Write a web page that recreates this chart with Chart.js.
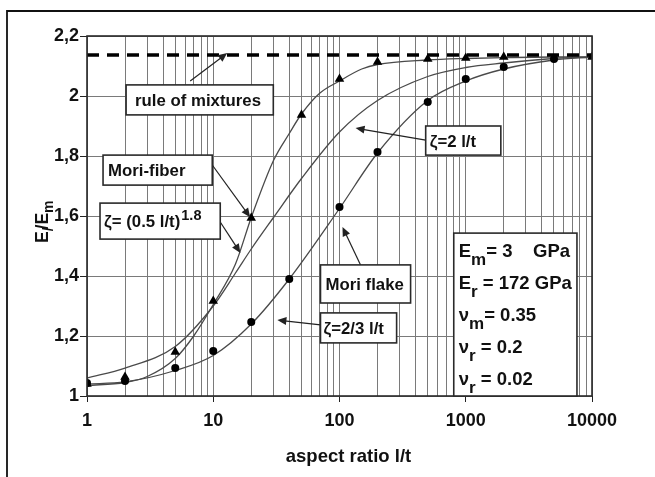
<!DOCTYPE html>
<html>
<head>
<meta charset="utf-8">
<script src="https://cdn.jsdelivr.net/npm/chart.js@4.4.1/dist/chart.umd.min.js"></script>
<style>
html,body{margin:0;padding:0;background:#fff;}
#wrap{position:relative;width:655px;height:477px;}
canvas{display:block;}
</style>
</head>
<body>
<div id="wrap"><canvas id="c" width="655" height="477"></canvas></div>
<script>
// ---------- data ----------
const xMajorTicks = [1, 10, 100, 1000, 10000];
const xGridTicks = [1,2,3,4,5,6,7,8,9,10,20,30,40,50,60,70,80,90,100,200,300,400,500,600,700,800,900,1000,2000,3000,4000,5000,6000,7000,8000,9000,10000];
const yTicks = [1, 1.2, 1.4, 1.6, 1.8, 2, 2.2];

const ruleOfMixtures = 2.137;

// Halpin-Tsai points, zeta = (0.5 l/t)^1.8 (triangles)
const triX = [1, 2, 5, 10, 20, 50, 100, 200, 500, 1000, 2000, 10000];
const triY = [1.04, 1.063, 1.147, 1.317, 1.593, 1.937, 2.057, 2.113, 2.123, 2.127, 2.13, 2.13];

// Halpin-Tsai points, zeta = 2/3 l/t (circles)
const circX = [1, 2, 5, 10, 20, 40, 100, 200, 500, 1000, 2000, 5000];
const circY = [1.043, 1.05, 1.093, 1.15, 1.247, 1.39, 1.63, 1.813, 1.98, 2.057, 2.097, 2.123];

// Mori-fiber curve
const moriFiberX = [1, 2, 3, 5, 7, 10, 15, 20, 30, 40, 50, 70, 100, 150, 200, 500, 1000, 2000, 5000, 10000];
const moriFiberY = [1.035, 1.045, 1.065, 1.125, 1.2, 1.305, 1.44, 1.595, 1.785, 1.875, 1.94, 2.01, 2.05, 2.09, 2.105, 2.12, 2.125, 2.128, 2.13, 2.13];

// Halpin-Tsai curve, zeta = 2 l/t
const zeta2X = [1, 2, 5, 10, 15, 20, 30, 50, 100, 200, 500, 1000, 2000, 5000, 10000];
const zeta2Y = [1.06, 1.093, 1.165, 1.3, 1.41, 1.49, 1.595, 1.725, 1.88, 1.985, 2.065, 2.095, 2.11, 2.125, 2.13];

// Mori flake curve
const moriFlakeX = [1, 2, 5, 10, 20, 40, 100, 200, 500, 1000, 2000, 5000, 10000];
const moriFlakeY = [1.04, 1.047, 1.085, 1.135, 1.24, 1.39, 1.625, 1.81, 1.985, 2.05, 2.09, 2.12, 2.13];

const xTitle = 'aspect ratio l/t';

// ---------- annotations (data coordinates) ----------
const labelNotes = [
  {parts:[['rule of mixtures',0]], box:[2.04,2.037,29.9,1.937], pad:9, from:[6.57,2.05], to:[12.9,2.143]},
  {parts:[['Mori-fiber',0]], box:[1.34,1.803,9.82,1.703], pad:5, from:[9.82,1.77], to:[19.6,1.596]},
  {parts:[['ζ= (0.5 l/t)',0],['1.8',1]], box:[1.268,1.643,11.36,1.523], pad:4, from:[11.36,1.58], to:[16.4,1.477]},
  {parts:[['ζ=2 l/t',0]], box:[481.6,1.90,1896,1.803], pad:4, from:[481.6,1.853], to:[134,1.893]},
  {parts:[['Mori flake',0]], box:[70.7,1.437,365.7,1.31], pad:5, from:[146.8,1.437], to:[105.6,1.563]},
  {parts:[['ζ=2/3 l/t',0]], box:[70.7,1.277,283.4,1.177], pad:3, from:[70.7,1.237], to:[32.2,1.253]}
];
const paramBox = [803.5, 1.543, 7600, 1.0];
const paramLines = [
  ['E','m','= 3    GPa'],
  ['E','r',' = 172 GPa'],
  ['ν','m','= 0.35'],
  ['ν','r',' = 0.2'],
  ['ν','r',' = 0.02']
];

const FONT = '"Liberation Sans", Arial, sans-serif';
const INK = '#111';

function bold(size){ return 'bold ' + size + 'px ' + FONT; }

function drawArrow(ctx, x1, y1, x2, y2){
  const ang = Math.atan2(y2 - y1, x2 - x1);
  const L = 9, W = 4;
  ctx.beginPath();
  ctx.moveTo(x1, y1);
  ctx.lineTo(x2 - Math.cos(ang) * L * 0.8, y2 - Math.sin(ang) * L * 0.8);
  ctx.stroke();
  ctx.beginPath();
  ctx.moveTo(x2, y2);
  ctx.lineTo(x2 - Math.cos(ang) * L - Math.sin(ang) * W, y2 - Math.sin(ang) * L + Math.cos(ang) * W);
  ctx.lineTo(x2 - Math.cos(ang) * L + Math.sin(ang) * W, y2 - Math.sin(ang) * L - Math.cos(ang) * W);
  ctx.closePath();
  ctx.fill();
}

const decorPlugin = {
  id: 'decor',
  afterDatasetsDraw(chart){
    const ctx = chart.ctx;
    const xs = chart.scales.x, ys = chart.scales.y;
    const P = (x, y) => [xs.getPixelForValue(x), ys.getPixelForValue(y)];
    const ca = chart.chartArea;
    ctx.save();
    // plot frame
    ctx.strokeStyle = '#2a2a2a';
    ctx.lineWidth = 1.6;
    ctx.strokeRect(ca.left, ca.top, ca.right - ca.left, ca.bottom - ca.top);

    // arrows
    ctx.strokeStyle = '#222';
    ctx.fillStyle = '#222';
    ctx.lineWidth = 1.2;
    labelNotes.forEach(n => {
      const [a, b] = [P(n.from[0], n.from[1]), P(n.to[0], n.to[1])];
      drawArrow(ctx, a[0], a[1], b[0], b[1]);
    });
    // label boxes
    labelNotes.forEach(n => {
      const p1 = P(n.box[0], n.box[1]), p2 = P(n.box[2], n.box[3]);
      ctx.fillStyle = '#fff';
      ctx.fillRect(p1[0], p1[1], p2[0] - p1[0], p2[1] - p1[1]);
      ctx.strokeStyle = '#2a2a2a';
      ctx.lineWidth = 1.6;
      ctx.strokeRect(p1[0], p1[1], p2[0] - p1[0], p2[1] - p1[1]);
      const cy = (p1[1] + p2[1]) / 2;
      let x = p1[0] + n.pad;
      ctx.fillStyle = INK;
      ctx.textAlign = 'left';
      ctx.textBaseline = 'alphabetic';
      n.parts.forEach(([t, sup]) => {
        ctx.font = sup ? bold(14.5) : bold(16.8);
        ctx.fillText(t, x, sup ? cy + 6 - 7 : cy + 6);
        x += ctx.measureText(t).width + (sup ? 0 : 1);
      });
    });

    // parameter box
    const q1 = P(paramBox[0], paramBox[1]), q2 = P(paramBox[2], paramBox[3]);
    ctx.fillStyle = '#fff';
    ctx.fillRect(q1[0], q1[1], q2[0] - q1[0], q2[1] - q1[1]);
    ctx.strokeStyle = '#2a2a2a';
    ctx.lineWidth = 1.6;
    ctx.strokeRect(q1[0], q1[1], q2[0] - q1[0], q2[1] - q1[1]);
    ctx.fillStyle = INK;
    paramLines.forEach((ln, i) => {
      const by = q1[1] + 24 + i * 32;
      let x = q1[0] + 5;
      ctx.font = bold(18.5);
      ctx.fillText(ln[0], x, by);
      x += ctx.measureText(ln[0]).width;
      ctx.font = bold(17);
      ctx.fillText(ln[1], x, by + 8);
      x += ctx.measureText(ln[1]).width;
      ctx.font = bold(18.5);
      ctx.fillText(ln[2], x, by);
    });

    // x axis title
    ctx.font = bold(18.5);
    ctx.textAlign = 'center';
    ctx.fillText(xTitle, (ca.left + ca.right) / 2 + 9, ca.bottom + 66);

    // y axis title (rotated)
    ctx.translate(48, 243);
    ctx.rotate(-Math.PI / 2);
    ctx.textAlign = 'left';
    let x = 0;
    const seg = [['E',0],['/',1],['/',0],['E',0],['m',1]];
    seg.forEach(([t, sub]) => {
      ctx.font = sub ? bold(14) : bold(17.5);
      ctx.fillText(t, x, sub ? 5 : 0);
      x += ctx.measureText(t).width - (sub && t === '/' ? 2 : 0);
    });
    ctx.restore();

    // outer figure frame
    ctx.save();
    ctx.strokeStyle = '#111';
    ctx.lineWidth = 1.8;
    ctx.beginPath();
    ctx.moveTo(7, 480);
    ctx.lineTo(7, 11);
    ctx.lineTo(660, 11);
    ctx.stroke();
    ctx.restore();
  }
};

const toXY = (xa, ya) => xa.map((v, i) => ({x: v, y: ya[i]}));

const lineStyle = {
  borderColor: '#4a4a4a',
  borderWidth: 1.3,
  pointRadius: 0,
  fill: false,
  cubicInterpolationMode: 'monotone'
};

new Chart(document.getElementById('c'), {
  type: 'line',
  data: {
    datasets: [
      {label: 'ζ=(0.5 l/t)^1.8', data: toXY(triX, triY), showLine: false, pointStyle: 'triangle', pointRadius: 5.5, pointBackgroundColor: '#000', pointBorderColor: '#000', pointBorderWidth: 0},
      {label: 'ζ=2/3 l/t', data: toXY(circX, circY), showLine: false, pointStyle: 'circle', pointRadius: 4, pointBackgroundColor: '#000', pointBorderColor: '#000', pointBorderWidth: 0},
      {label: 'rule of mixtures', data: [{x: xMajorTicks[0], y: ruleOfMixtures}, {x: xMajorTicks[xMajorTicks.length - 1], y: ruleOfMixtures}], borderColor: '#000', borderWidth: 3.5, borderDash: [12, 8], pointRadius: 0, fill: false},
      Object.assign({label: 'Mori-fiber', data: toXY(moriFiberX, moriFiberY)}, lineStyle),
      Object.assign({label: 'ζ=2 l/t', data: toXY(zeta2X, zeta2Y)}, lineStyle),
      Object.assign({label: 'Mori flake', data: toXY(moriFlakeX, moriFlakeY)}, lineStyle)
    ]
  },
  options: {
    responsive: false,
    animation: false,
    devicePixelRatio: 1,
    layout: {padding: {left: 0, top: 36, right: 63, bottom: 0}},
    plugins: {legend: {display: false}, tooltip: {enabled: false}},
    scales: {
      x: {
        type: 'logarithmic',
        min: 1, max: 10000,
        afterBuildTicks: s => { s.ticks = xGridTicks.map(v => ({value: v, major: xMajorTicks.includes(v)})); },
        afterFit: s => { s.height = 81; },
        grid: {
          color: '#7a7a7a', lineWidth: 1, drawTicks: true, tickLength: 6,
          tickColor: c => (c.tick && xMajorTicks.includes(c.tick.value)) ? '#222' : 'rgba(0,0,0,0)'
        },
        border: {display: false},
        ticks: {
          autoSkip: false, maxRotation: 0, minRotation: 0, padding: 8,
          color: INK, font: {family: FONT, size: 18, weight: 'bold'},
          callback: v => xMajorTicks.includes(v) ? String(v) : ''
        }
      },
      y: {
        type: 'linear',
        min: 1, max: 2.2,
        afterBuildTicks: s => { s.ticks = yTicks.map(v => ({value: v})); },
        afterFit: s => { s.width = 87; },
        grid: {color: '#7a7a7a', lineWidth: 1, drawTicks: true, tickLength: 7, tickColor: '#222'},
        border: {display: false},
        ticks: {
          padding: 1, color: INK, font: {family: FONT, size: 18, weight: 'bold'},
          callback: v => String(Math.round(v * 10) / 10).replace('.', ',')
        }
      }
    }
  },
  plugins: [decorPlugin]
});
</script>
</body>
</html>
